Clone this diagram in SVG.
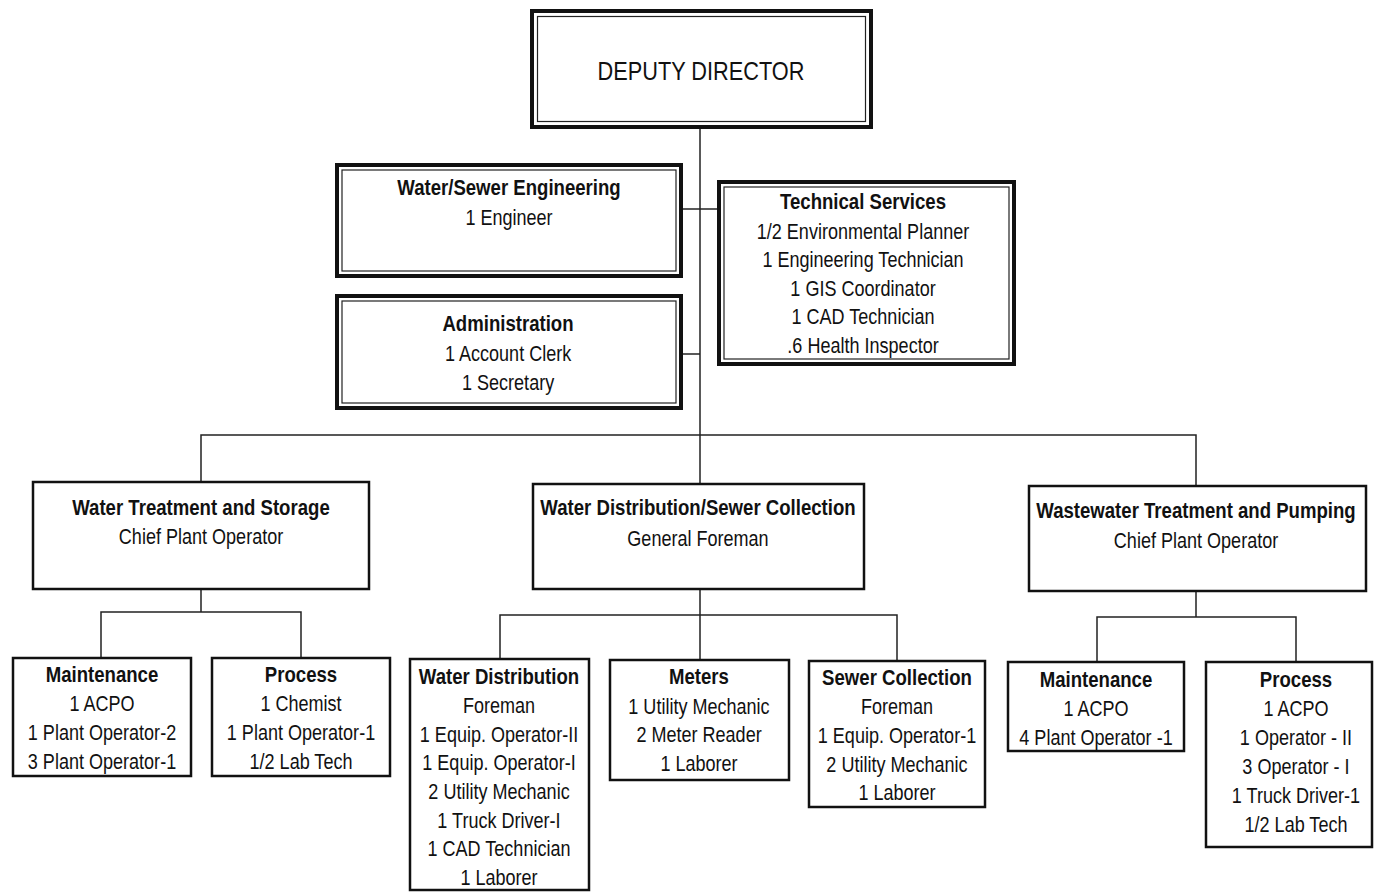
<svg xmlns="http://www.w3.org/2000/svg" width="1375" height="893" viewBox="0 0 1375 893">
<style>
.bg{fill:#fff}
.box{fill:#fff;stroke:#111;stroke-width:2.5}
.outer{fill:#fff;stroke:#111;stroke-width:4}
.inner{fill:none;stroke:#222;stroke-width:1.2}
.ln{fill:none;stroke:#222;stroke-width:1.5}
text{font-family:"Liberation Sans",Arial,sans-serif;font-size:22px;fill:#111;text-anchor:middle;transform-box:fill-box;transform-origin:center;transform:scaleX(0.82)}
.t{font-weight:bold;transform:scaleX(0.845)}
.dd{font-size:26.5px}
</style>
<rect class="bg" x="0" y="0" width="1375" height="893"/>
<g id="connectors">
<path class="ln" d="M700 129V483"/>
<path class="ln" d="M683 209H717"/>
<path class="ln" d="M683 354H700"/>
<path class="ln" d="M201 481V435H1196V485"/>
<path class="ln" d="M201 590V612M101 657V612H301V657"/>
<path class="ln" d="M700 590V615M500 659V615H897V661M700 615V660"/>
<path class="ln" d="M1196 592V617M1097 662V617H1296V662"/>
</g>
<g id="deputy-director">
<rect class="outer" x="532" y="11" width="339" height="116"/>
<rect class="inner" x="537.5" y="16.5" width="328" height="105"/>
<text class="dd" x="701" y="80">DEPUTY DIRECTOR</text>
</g>
<g id="water-sewer-engineering">
<rect class="outer" x="337" y="165" width="344" height="111"/>
<rect class="inner" x="342" y="170" width="334" height="101"/>
<text class="t" x="509" y="195">Water/Sewer Engineering</text>
<text x="509" y="225">1 Engineer</text>
</g>
<g id="administration">
<rect class="outer" x="337" y="296" width="344" height="112"/>
<rect class="inner" x="342" y="301" width="334" height="102"/>
<text class="t" x="508" y="331">Administration</text>
<text x="508" y="361">1 Account Clerk</text>
<text x="508" y="390">1 Secretary</text>
</g>
<g id="technical-services">
<rect class="outer" x="719" y="182" width="295" height="182"/>
<rect class="inner" x="724" y="187" width="285" height="172"/>
<text class="t" x="863" y="209">Technical Services</text>
<text x="863" y="239">1/2 Environmental Planner</text>
<text x="863" y="267">1 Engineering Technician</text>
<text x="863" y="296">1 GIS Coordinator</text>
<text x="863" y="324">1 CAD Technician</text>
<text x="863" y="353">.6 Health Inspector</text>
</g>
<g id="water-treatment">
<rect class="box" x="33" y="482" width="336" height="107"/>
<text class="t" x="201" y="515">Water Treatment and Storage</text>
<text x="201" y="544">Chief Plant Operator</text>
</g>
<g id="water-distribution-sewer-collection">
<rect class="box" x="533" y="484" width="331" height="105"/>
<text class="t" x="698" y="515">Water Distribution/Sewer Collection</text>
<text x="698" y="546">General Foreman</text>
</g>
<g id="wastewater-treatment">
<rect class="box" x="1029" y="486" width="337" height="105"/>
<text class="t" x="1196" y="518">Wastewater Treatment and Pumping</text>
<text x="1196" y="548">Chief Plant Operator</text>
</g>
<g id="wt-maintenance">
<rect class="box" x="13" y="658" width="178" height="118"/>
<text class="t" x="102" y="682">Maintenance</text>
<text x="102" y="711">1 ACPO</text>
<text x="102" y="740">1 Plant Operator-2</text>
<text x="102" y="769">3 Plant Operator-1</text>
</g>
<g id="wt-process">
<rect class="box" x="212" y="658" width="178" height="118"/>
<text class="t" x="301" y="682">Process</text>
<text x="301" y="711">1 Chemist</text>
<text x="301" y="740">1 Plant Operator-1</text>
<text x="301" y="769">1/2 Lab Tech</text>
</g>
<g id="water-distribution">
<rect class="box" x="410" y="659" width="179" height="231"/>
<text class="t" x="499" y="684">Water Distribution</text>
<text x="499" y="713">Foreman</text>
<text x="499" y="742">1 Equip. Operator-II</text>
<text x="499" y="770">1 Equip. Operator-I</text>
<text x="499" y="799">2 Utility Mechanic</text>
<text x="499" y="828">1 Truck Driver-I</text>
<text x="499" y="856">1 CAD Technician</text>
<text x="499" y="885">1 Laborer</text>
</g>
<g id="meters">
<rect class="box" x="610" y="660" width="179" height="120"/>
<text class="t" x="699" y="684">Meters</text>
<text x="699" y="714">1 Utility Mechanic</text>
<text x="699" y="742">2 Meter Reader</text>
<text x="699" y="771">1 Laborer</text>
</g>
<g id="sewer-collection">
<rect class="box" x="809" y="661" width="176" height="146"/>
<text class="t" x="897" y="685">Sewer Collection</text>
<text x="897" y="714">Foreman</text>
<text x="897" y="743">1 Equip. Operator-1</text>
<text x="897" y="772">2 Utility Mechanic</text>
<text x="897" y="800">1 Laborer</text>
</g>
<g id="ww-maintenance">
<rect class="box" x="1008" y="662" width="176" height="89"/>
<text class="t" x="1096" y="687">Maintenance</text>
<text x="1096" y="716">1 ACPO</text>
<text x="1096" y="745">4 Plant Operator -1</text>
</g>
<g id="ww-process">
<rect class="box" x="1206" y="662" width="166" height="185"/>
<text class="t" x="1296" y="687">Process</text>
<text x="1296" y="716">1 ACPO</text>
<text x="1296" y="745">1 Operator - II</text>
<text x="1296" y="774">3 Operator - I</text>
<text x="1296" y="803">1 Truck Driver-1</text>
<text x="1296" y="832">1/2 Lab Tech</text>
</g>
</svg>
